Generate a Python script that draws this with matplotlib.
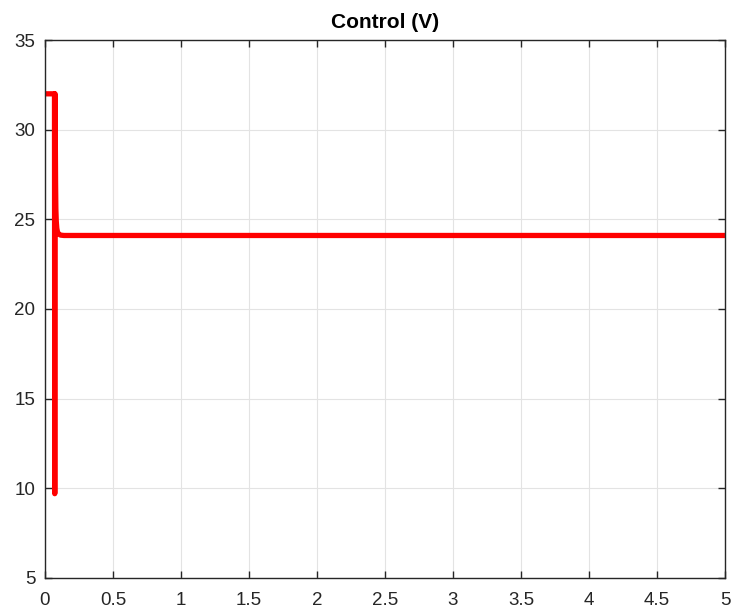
import matplotlib
matplotlib.use("Agg")
import matplotlib.pyplot as plt

# control signal samples
t = [0.0, 0.070, 0.072, 0.074, 0.076, 0.078, 0.080, 0.083, 0.087, 0.092, 0.100, 0.115, 0.140, 5.0]
v = [32.0, 32.0, 9.7, 32.0, 29.5, 27.0, 25.6, 24.9, 24.5, 24.3, 24.18, 24.12, 24.1, 24.1]

xticks = [0, 0.5, 1, 1.5, 2, 2.5, 3, 3.5, 4, 4.5, 5]
xticklabels = ["0", "0.5", "1", "1.5", "2", "2.5", "3", "3.5", "4", "4.5", "5"]
yticks = [5, 10, 15, 20, 25, 30, 35]

plt.rcParams["font.family"] = ["Liberation Sans", "DejaVu Sans"]

fig = plt.figure(figsize=(7.36, 6.12), dpi=100)
ax = fig.add_axes([0.0611, 0.0556, 0.9239, 0.879])
ax.plot(t, v, color="#ff0000", linewidth=3.8, solid_joinstyle="round", solid_capstyle="butt", clip_on=False)
ax.set_xlim(0, 5)
ax.set_ylim(5, 35)
ax.set_xticks(xticks, xticklabels)
ax.set_yticks(yticks)
ax.grid(True, color="#e3e3e3", linewidth=0.8)
ax.set_axisbelow(True)
ax.tick_params(direction="in", top=True, right=True, labelsize=13.5, length=5, width=1, colors="#262626")
ax.tick_params(axis="x", pad=10)
ax.tick_params(axis="y", pad=7)
for s in ax.spines.values():
    s.set_color("#262626")
    s.set_linewidth(1.0)
ax.set_title("Control (V)", fontsize=15, fontweight="bold", pad=9)
fig.savefig("out.png", dpi=100)
